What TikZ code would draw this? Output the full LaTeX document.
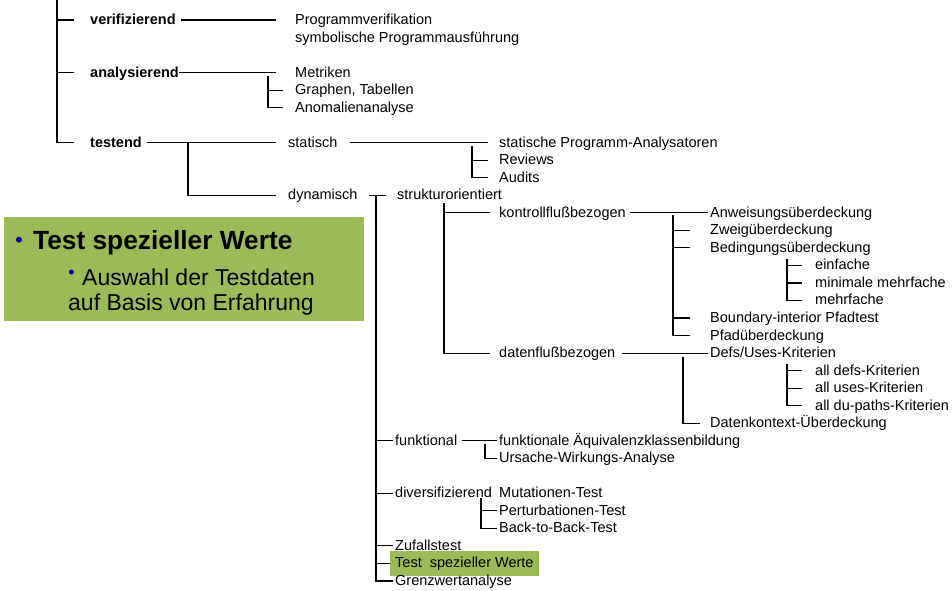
\documentclass[tikz,border=0pt]{standalone}
\usepackage{fontspec}
\setmainfont{Liberation Sans}
\definecolor{boxgreen}{RGB}{155,187,89}
\definecolor{dotblue}{RGB}{0,0,160}

\begin{document}
\begin{tikzpicture}[x=1bp, y=-17.53bp]
  % Define styles
  \tikzstyle{lbl} = [anchor=west, inner sep=0pt, text height=10bp, text depth=1bp, font=\fontsize{14.5bp}{17.5bp}\selectfont]
  \tikzstyle{head} = [lbl, font=\fontsize{14.5bp}{17.5bp}\selectfont\bfseries]
  \tikzstyle{branch} = [draw, line width=1.1bp]
  \tikzstyle{callout} = [rectangle, fill=boxgreen, minimum width=360bp, minimum height=104bp, anchor=north west, inner sep=0pt]

  \useasboundingbox (0,-1.141) rectangle (952,32.516);

  % Place nodes
  \node [head] (verif) at (90,0) {verifizierend};
  \node [head] (analys) at (90,3) {analysierend};
  \node [head] (testend) at (90,7) {testend};

  \node [lbl] (progv) at (295,0) {Programmverifikation};
  \node [lbl] (symb) at (295,1) {symbolische Programmausführung};
  \node [lbl] (metr) at (295,3) {Metriken};
  \node [lbl] (graph) at (295,4) {Graphen, Tabellen};
  \node [lbl] (anom) at (295,5) {Anomalienanalyse};

  \node [lbl] (stat) at (288,7) {statisch};
  \node [lbl] (dyn) at (288,10) {dynamisch};
  \node [lbl] (spa) at (499,7) {statische Programm-Analysatoren};
  \node [lbl] (rev) at (499,8) {Reviews};
  \node [lbl] (aud) at (499,9) {Audits};

  \node [lbl] (strukt) at (397,10) {strukturorientiert};
  \node [lbl] (kontr) at (499,11) {kontrollflußbezogen};
  \node [lbl] (datfl) at (499,19) {datenflußbezogen};

  \node [lbl] (anw) at (710,11) {Anweisungsüberdeckung};
  \node [lbl] (zweig) at (710,12) {Zweigüberdeckung};
  \node [lbl] (bed) at (710,13) {Bedingungsüberdeckung};
  \node [lbl] (einf) at (815,14) {einfache};
  \node [lbl] (minm) at (815,15) {minimale mehrfache};
  \node [lbl] (mehr) at (815,16) {mehrfache};
  \node [lbl] (bound) at (710,17) {Boundary-interior Pfadtest};
  \node [lbl] (pfad) at (710,18) {Pfadüberdeckung};
  \node [lbl] (defs) at (710,19) {Defs/Uses-Kriterien};
  \node [lbl] (adefs) at (815,20) {all defs-Kriterien};
  \node [lbl] (auses) at (815,21) {all uses-Kriterien};
  \node [lbl] (adu) at (815,22) {all du-paths-Kriterien};
  \node [lbl] (dkont) at (710,23) {Datenkontext-Überdeckung};

  \node [lbl] (funkt) at (395,24) {funktional};
  \node [lbl] (aequi) at (499,24) {funktionale Äquivalenzklassenbildung};
  \node [lbl] (ursa) at (499,25) {Ursache-Wirkungs-Analyse};
  \node [lbl] (divers) at (395,27) {diversifizierend};
  \node [lbl] (mutat) at (499,27) {Mutationen-Test};
  \node [lbl] (pert) at (499,28) {Perturbationen-Test};
  \node [lbl] (btb) at (499,29) {Back-to-Back-Test};
  \node [lbl] (zufall) at (395,30) {Zufallstest};
  \node [lbl, fill=boxgreen, inner xsep=5bp, inner ysep=7bp] (testsw) at (390,31) {Test\ \ spezieller Werte\hspace{6bp}};
  \node [lbl] (grenz) at (395,32) {Grenzwertanalyse};

  % Bracket corners
  \coordinate (spine) at (57,-1.3);
  \coordinate (abr) at (268,3.2);
  \coordinate (tsplit) at (188,7);
  \coordinate (sbr) at (472,7.2);
  \coordinate (dsplit) at (376,10);
  \coordinate (kbr) at (444,10.45);
  \coordinate (anbr) at (673,11.15);
  \coordinate (bebr) at (787,13.65);
  \coordinate (debr) at (683,19.2);
  \coordinate (albr) at (787,19.65);
  \coordinate (fubr) at (485,24.2);
  \coordinate (dibr) at (481,27.25);

  % Draw edges
  \path [branch] (spine) |- ([xshift=-16bp]testend.west);
  \path [branch] (spine |- verif) -- ([xshift=-16bp]verif.west);
  \path [branch] (spine |- analys) -- ([xshift=-16bp]analys.west);

  \path [branch] ([xshift=5bp]verif.east) -- ([xshift=-19bp]progv.west);
  \path [branch] (analys.east) -- ([xshift=-19bp]metr.west);
  \path [branch] (abr) |- ([xshift=-12bp]anom.west);
  \path [branch] (abr |- graph) -- ([xshift=-12bp]graph.west);

  \path [branch] ([xshift=5bp]testend.east) -- ([xshift=-12bp]stat.west);
  \path [branch] (tsplit) |- ([xshift=-12bp]dyn.west);
  \path [branch] ([xshift=12bp]stat.east) -- ([xshift=-11bp]spa.west);
  \path [branch] (sbr) |- ([xshift=-11bp]aud.west);
  \path [branch] (sbr |- rev) -- ([xshift=-11bp]rev.west);

  \path [branch] ([xshift=11bp]dyn.east) -- ([xshift=-11bp]strukt.west);
  \path [branch] (dsplit) |- ([xshift=-2bp]grenz.west);
  \path [branch] (dsplit |- funkt) -- ([xshift=-2bp]funkt.west);
  \path [branch] (dsplit |- divers) -- ([xshift=-2bp]divers.west);
  \path [branch] (dsplit |- zufall) -- ([xshift=-2bp]zufall.west);
  \path [branch] (dsplit |- testsw) -- (testsw.west);

  \path [branch] (kbr) |- ([xshift=-9bp]datfl.west);
  \path [branch] (kbr |- kontr) -- ([xshift=-9bp]kontr.west);
  \path [branch] ([xshift=4bp]kontr.east) -- ([xshift=-2bp]anw.west);
  \path [branch] (anbr) |- ([xshift=-20bp]pfad.west);
  \path [branch] (anbr |- zweig) -- ([xshift=-20bp]zweig.west);
  \path [branch] (anbr |- bed) -- ([xshift=-20bp]bed.west);
  \path [branch] (anbr |- bound) -- ([xshift=-20bp]bound.west);
  \path [branch] (bebr) |- ([xshift=-13bp]mehr.west);
  \path [branch] (bebr |- einf) -- ([xshift=-13bp]einf.west);
  \path [branch] (bebr |- minm) -- ([xshift=-13bp]minm.west);

  \path [branch] ([xshift=7bp]datfl.east) -- ([xshift=-2bp]defs.west);
  \path [branch] (debr) |- ([xshift=-10bp]dkont.west);
  \path [branch] (albr) |- ([xshift=-13bp]adu.west);
  \path [branch] (albr |- adefs) -- ([xshift=-13bp]adefs.west);
  \path [branch] (albr |- auses) -- ([xshift=-13bp]auses.west);

  \path [branch] ([xshift=5bp]funkt.east) -- ([xshift=-2bp]aequi.west);
  \path [branch] (fubr) |- ([xshift=-2bp]ursa.west);
  \path [branch] (dibr) |- ([xshift=-2bp]btb.west);
  \path [branch] (dibr |- pert) -- ([xshift=-2bp]pert.west);

  % Callout box
  \node [callout] (callout) at (4,11.24) {};
  \fill [dotblue] ([xshift=15bp,yshift=-22.6bp]callout.north west) circle (3bp);
  \node [anchor=base west, inner sep=0pt, font=\fontsize{26.3bp}{30bp}\selectfont\bfseries] (ctitle) at ([xshift=29bp,yshift=-32bp]callout.north west) {Test spezieller Werte};
  \fill [dotblue] ([xshift=67.5bp,yshift=-55bp]callout.north west) circle (2.5bp);
  \node [anchor=base west, inner sep=0pt, font=\fontsize{23bp}{25bp}\selectfont] (cline1) at ([xshift=78bp,yshift=-68bp]callout.north west) {Auswahl der Testdaten};
  \node [anchor=base west, inner sep=0pt, font=\fontsize{23bp}{25bp}\selectfont] (cline2) at ([xshift=64bp,yshift=-93bp]callout.north west) {auf Basis von Erfahrung};
\end{tikzpicture}
\end{document}
